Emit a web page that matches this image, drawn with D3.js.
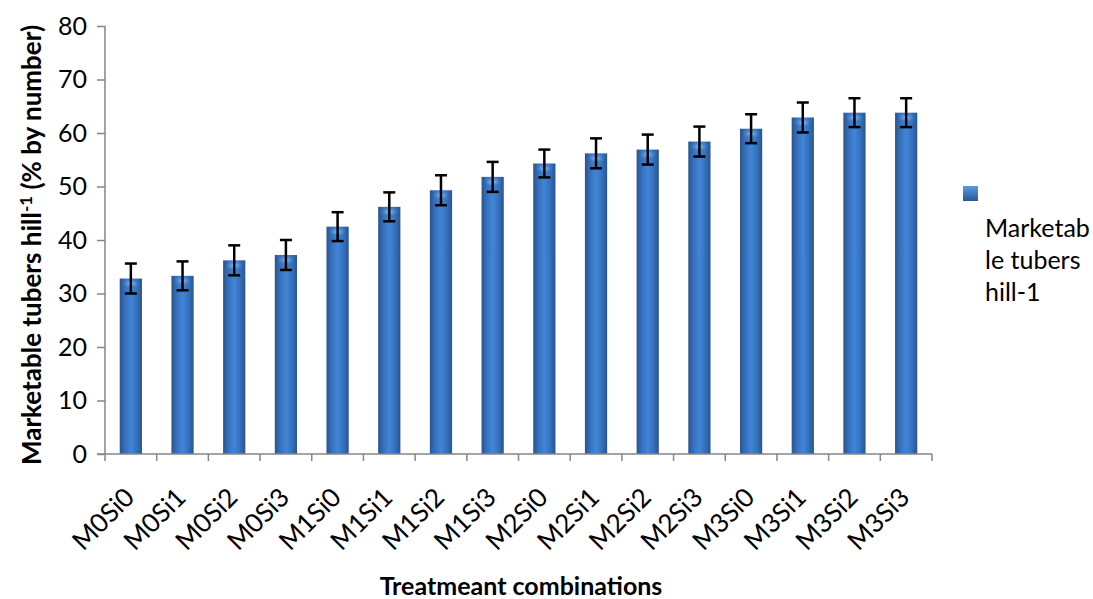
<!DOCTYPE html>
<html>
<head>
<meta charset="utf-8">
<script src="https://cdn.jsdelivr.net/npm/d3@7"></script>
<style>
  body { margin: 0; background: #fff; }
  svg { font-family: Lato, "Open Sans", sans-serif; }
</style>
</head>
<body>
<svg width="1093" height="599"></svg>
<script>
//data
var categories = ["M0Si0", "M0Si1", "M0Si2", "M0Si3", "M1Si0", "M1Si1", "M1Si2", "M1Si3",
                  "M2Si0", "M2Si1", "M2Si2", "M2Si3", "M3Si0", "M3Si1", "M3Si2", "M3Si3"];
var values = [32.8, 33.3, 36.2, 37.2, 42.5, 46.2, 49.3, 51.8, 54.3, 56.2, 56.9, 58.4, 60.8, 62.9, 63.8, 63.8];
var errors = [2.8, 2.7, 2.8, 2.8, 2.7, 2.7, 2.8, 2.8, 2.6, 2.8, 2.8, 2.8, 2.7, 2.8, 2.7, 2.7];
var yTicks = [0, 10, 20, 30, 40, 50, 60, 70, 80];
var seriesName = "Marketable tubers hill-1";
var legendLines = ["Marketab", "le tubers", "hill-1"];

var svg = d3.select("svg");
var plotLeft = 105, plotRight = 932, plotTop = 26, plotBottom = 454;
var axisColor = "#868686";

//scales
var x = d3.scaleBand()
    .domain(categories)
    .range([plotLeft, plotRight])
    .paddingInner(0.57)
    .paddingOuter(0.285);

var y = d3.scaleLinear()
    .domain([0, 80])
    .range([plotBottom, plotTop]);

//bar gradient
var defs = svg.append("defs");
var grad = defs.append("linearGradient")
    .attr("id", "barGrad")
    .attr("x1", "0%").attr("x2", "100%").attr("y1", "0%").attr("y2", "0%");
grad.append("stop").attr("offset", "0%").attr("stop-color", "#2a5490");
grad.append("stop").attr("offset", "25%").attr("stop-color", "#3772bd");
grad.append("stop").attr("offset", "50%").attr("stop-color", "#3f86d8");
grad.append("stop").attr("offset", "75%").attr("stop-color", "#3772bd");
grad.append("stop").attr("offset", "100%").attr("stop-color", "#2a5490");

var gloss = defs.append("radialGradient")
    .attr("id", "glossGrad");
gloss.append("stop").attr("offset", "0%").attr("stop-color", "#9cc8f5").attr("stop-opacity", 0.95);
gloss.append("stop").attr("offset", "100%").attr("stop-color", "#3d83d5").attr("stop-opacity", 0);

var legGrad = defs.append("linearGradient")
    .attr("id", "legGrad")
    .attr("x1", "0%").attr("x2", "0%").attr("y1", "0%").attr("y2", "100%");
legGrad.append("stop").attr("offset", "0%").attr("stop-color", "#5b9be0");
legGrad.append("stop").attr("offset", "100%").attr("stop-color", "#2a5796");

//y axis
var yAxis = svg.append("g")
    .attr("transform", "translate(" + plotLeft + ",0)")
    .call(d3.axisLeft(y).tickValues(yTicks).tickSize(8).tickPadding(10))
    .attr("font-family", null);
yAxis.selectAll("text")
    .attr("font-size", 25)
    .attr("fill", "#000");
yAxis.selectAll("line, path")
    .attr("stroke", axisColor)
    .attr("stroke-width", 1.5);
yAxis.select(".domain").attr("d", "M0," + plotTop + "V" + plotBottom);

//bars
var bars = svg.append("g").selectAll("g")
    .data(values)
    .enter()
    .append("g");

bars.append("rect")
    .attr("x", function (d, i) { return x(categories[i]); })
    .attr("y", function (d) { return y(d); })
    .attr("width", x.bandwidth())
    .attr("height", function (d) { return y(0) - y(d); })
    .attr("fill", "url(#barGrad)");

bars.append("ellipse")
    .attr("cx", function (d, i) { return x(categories[i]) + x.bandwidth() / 2; })
    .attr("cy", function (d) { return y(d) + 5; })
    .attr("rx", x.bandwidth() / 2 - 2)
    .attr("ry", 5)
    .attr("fill", "url(#glossGrad)");

//error bars
var err = svg.append("g").selectAll("g")
    .data(values)
    .enter()
    .append("g")
    .attr("stroke", "#000")
    .attr("stroke-width", 2.5);

err.append("line")
    .attr("x1", function (d, i) { return x(categories[i]) + x.bandwidth() / 2; })
    .attr("x2", function (d, i) { return x(categories[i]) + x.bandwidth() / 2; })
    .attr("y1", function (d, i) { return y(d + errors[i]); })
    .attr("y2", function (d, i) { return y(d - errors[i]); });

err.selectAll(".cap")
    .data(function (d, i) { return [[d + errors[i], i], [d - errors[i], i]]; })
    .enter()
    .append("line")
    .attr("class", "cap")
    .attr("x1", function (d) { return x(categories[d[1]]) + x.bandwidth() / 2 - 6; })
    .attr("x2", function (d) { return x(categories[d[1]]) + x.bandwidth() / 2 + 6; })
    .attr("y1", function (d) { return y(d[0]); })
    .attr("y2", function (d) { return y(d[0]); });

//x axis line and category boundary ticks
var xAxis = svg.append("g")
    .attr("stroke", axisColor)
    .attr("stroke-width", 1.5);
xAxis.append("line")
    .attr("x1", plotLeft - 8).attr("x2", plotRight)
    .attr("y1", plotBottom).attr("y2", plotBottom);
var step = x.step();
xAxis.selectAll(".xt")
    .data(d3.range(categories.length + 1))
    .enter()
    .append("line")
    .attr("class", "xt")
    .attr("x1", function (i) { return plotLeft + i * step; })
    .attr("x2", function (i) { return plotLeft + i * step; })
    .attr("y1", plotBottom)
    .attr("y2", plotBottom + 7);

//x labels, rotated
svg.append("g").selectAll("text")
    .data(categories)
    .enter()
    .append("text")
    .attr("transform", function (d) {
        return "translate(" + (x(d) + x.bandwidth() / 2 + 5) + "," + 499 + ") rotate(-45)";
    })
    .attr("text-anchor", "end")
    .attr("font-size", 26)
    .attr("fill", "#000")
    .text(function (d) { return d; });

//axis titles
svg.append("text")
    .attr("x", 521)
    .attr("y", 595)
    .attr("text-anchor", "middle")
    .attr("font-size", 25)
    .attr("font-weight", "bold")
    .text("Treatmeant combinations");

var yt = svg.append("text")
    .attr("transform", "translate(41,245) rotate(-90)")
    .attr("text-anchor", "middle")
    .attr("font-size", 26)
    .attr("font-weight", "bold");
yt.append("tspan").text("Marketable tubers hill");
yt.append("tspan").attr("dy", -9).attr("font-size", 17).text("-1");
yt.append("tspan").attr("dy", 9).text(" (% by number)");

//legend
svg.append("rect")
    .attr("x", 963)
    .attr("y", 186)
    .attr("width", 15)
    .attr("height", 15)
    .attr("fill", "url(#legGrad)");

svg.append("g").selectAll("text")
    .data(legendLines)
    .enter()
    .append("text")
    .attr("x", 985)
    .attr("y", function (d, i) { return 237 + i * 32; })
    .attr("font-size", 25)
    .attr("fill", "#000")
    .text(function (d) { return d; });

svg.append("title").text(seriesName);
</script>
</body>
</html>
